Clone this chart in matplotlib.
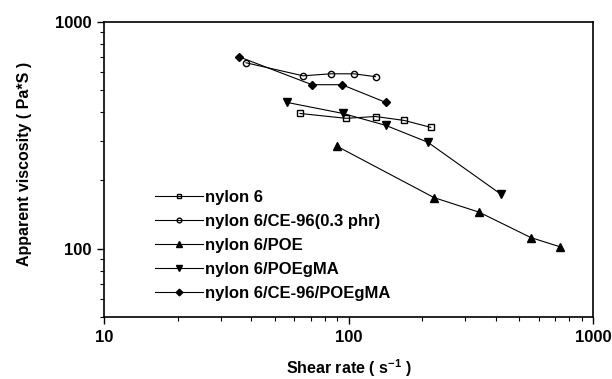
import numpy as np
import matplotlib.pyplot as plt

plt.rcParams['font.family'] = ['Liberation Sans', 'DejaVu Sans']
plt.rcParams['font.weight'] = 'bold'
plt.rcParams['mathtext.default'] = 'bf'

# shear rate (1/s) and apparent viscosity (Pa*s) per sample
x_nylon6 = [63.3, 97.7, 129, 169, 217]
y_nylon6 = [395, 376, 383, 368, 343]

x_ce96 = [38.1, 65.2, 84.8, 105, 129]
y_ce96 = [661, 579, 591, 591, 574]

x_poe = [89.8, 224, 342, 557, 733]
y_poe = [283, 168, 145, 112, 102]

x_poegma = [56.0, 95, 142, 211, 420]
y_poegma = [442, 395, 350, 295, 174]

x_ce96_poegma = [35.7, 70.9, 94, 142]
y_ce96_poegma = [702, 529, 529, 442]

series = [
    (x_nylon6, y_nylon6, 's', 'none', 4.5, 'nylon 6'),
    (x_ce96, y_ce96, 'o', 'none', 4.5, 'nylon 6/CE-96(0.3 phr)'),
    (x_poe, y_poe, '^', 'black', 5.5, 'nylon 6/POE'),
    (x_poegma, y_poegma, 'v', 'black', 5.5, 'nylon 6/POEgMA'),
    (x_ce96_poegma, y_ce96_poegma, 'D', 'black', 4.5, 'nylon 6/CE-96/POEgMA'),
]

fig = plt.figure(figsize=(6.12, 3.79), dpi=100)
ax = fig.add_axes([104 / 612, 1 - 317 / 379, (593 - 104) / 612, (317 - 22) / 379])

for xs, ys, m, fc, ms, lab in series:
    ax.plot(xs, ys, color='black', lw=0.8, marker=m, ms=ms,
            mfc=fc, mec='black', mew=1.0, label=lab)

ax.set_xscale('log')
ax.set_yscale('log')
ax.set_xlim(10, 1000)
ax.set_ylim(50, 1000)
ax.set_xticks([10, 100, 1000])
ax.set_xticklabels(['10', '100', '1000'])
ax.set_yticks([100, 1000])
ax.set_yticklabels(['100', '1000'])
ax.yaxis.set_minor_formatter(plt.NullFormatter())
ax.xaxis.set_minor_formatter(plt.NullFormatter())
ax.tick_params(which='both', direction='out', top=False, right=False, labelsize=12)
ax.tick_params(which='major', length=5, width=1, pad=4)
ax.tick_params(which='minor', length=3, width=0.8)
for s in ax.spines.values():
    s.set_linewidth(1.2)

ax.set_xlabel('Shear rate ( s$^{\\mathregular{-1}}$ )', fontsize=11.5, fontweight='bold')
ax.set_ylabel('Apparent viscosity ( Pa*S )', fontsize=11.5, fontweight='bold')
ax.xaxis.set_label_coords(0.5, -0.138)
ax.yaxis.set_label_coords(-0.147, 0.52)

ax.legend(loc='upper left', bbox_to_anchor=(0.104, 0.432), frameon=False,
          fontsize=12, handlelength=2.9, handletextpad=0.1, labelspacing=0.55,
          borderaxespad=0, borderpad=0, markerscale=0.75)

fig.savefig('out.png', dpi=100)
